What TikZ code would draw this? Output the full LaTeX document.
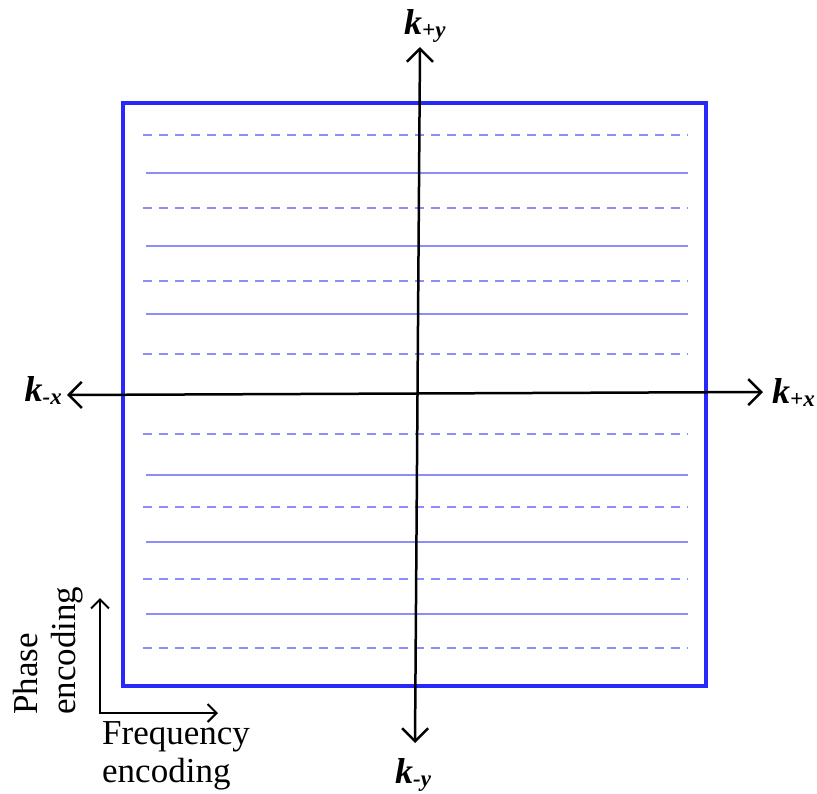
\documentclass[tikz,border=0pt]{standalone}
\usepackage{fontspec}
\setmainfont{Liberation Serif}
\usetikzlibrary{arrows.meta}

\definecolor{boxblue}{RGB}{40,40,250}
\definecolor{rowblue}{RGB}{140,140,250}

\tikzset{
  kbox/.style={draw=boxblue,line width=4pt},
  rowline/.style={rowblue,line width=2pt},
  rowdash/.style={rowline,dash pattern=on 9pt off 7pt},
  kaxis/.style={line width=2.5pt,
    {Straight Barb[length=13pt,width=26pt]}-{Straight Barb[length=13pt,width=26pt]}},
  encaxis/.style={line width=2pt,
    {Straight Barb[length=9pt,width=18pt]}-{Straight Barb[length=9pt,width=18pt]}},
  klabel/.style={inner sep=0pt,font=\fontsize{36}{40}\selectfont},
  enclabel/.style={inner sep=0pt,align=left,font=\fontsize{35}{38}\selectfont},
}
\newcommand{\klab}[1]{\textbf{\textit{k}}{\fontsize{23}{24}\selectfont\raisebox{-3pt}{\textbf{\textit{#1}}}}}

\begin{document}
\begin{tikzpicture}[x=1pt,y=-1pt]
  \useasboundingbox (0,0) rectangle (817,793);

  % k-space box and the sampled rows
  \draw[kbox] (123,103) rectangle (706,686);
  \foreach \y in {135,208,281,354,434,507,579,648}
    \draw[rowdash] (143,\y) -- (688,\y);
  \foreach \y in {173,246,314,475,542,614}
    \draw[rowline] (146,\y) -- (688,\y);

  % axes
  \coordinate (xneg) at (67,395);
  \coordinate (xpos) at (763,392);
  \coordinate (ypos) at (420,47);
  \coordinate (yneg) at (415,743);
  \draw[kaxis] (xneg) -- (xpos);
  \draw[kaxis] (yneg) -- (ypos);

  \node[klabel,anchor=base east] (kmx) at (62,401) {\klab{-x}};
  \node[klabel,anchor=base west] (kpx) at (772,403) {\klab{+x}};
  \node[klabel,anchor=base west] (kpy) at (404,34) {\klab{+y}};
  \node[klabel,anchor=base west] (kmy) at (395,783) {\klab{-y}};

  % encoding directions
  \coordinate (pe) at (100,598);
  \coordinate (corner) at (100,713);
  \coordinate (fe) at (218,713);
  \draw[encaxis] (pe) -- (corner) -- (fe);

  \node[enclabel,anchor=base west] (freq) at (102,782) {Frequency\\encoding};
  \node[enclabel,rotate=90,anchor=base west] (phase) at (75,715) {Phase\\encoding};
\end{tikzpicture}
\end{document}
